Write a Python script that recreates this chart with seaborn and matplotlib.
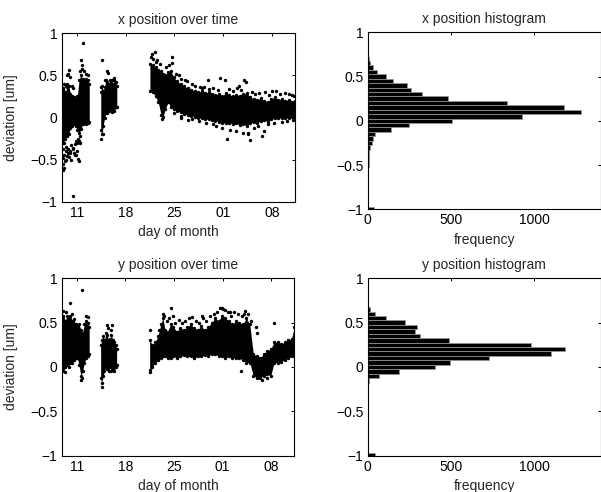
import numpy as np
import pandas as pd
import matplotlib
matplotlib.use('Agg')
import matplotlib.pyplot as plt
import seaborn as sns

# time axis: day number counted from the 1st of the first month (32 = 01 of next month)
day_ticks = [11, 18, 25, 32, 39]
day_tick_labels = ['11', '18', '25', '01', '08']
dev_ticks = [-1, -0.5, 0, 0.5, 1]
dev_tick_labels = ['\u22121', '\u22120.5', '0', '0.5', '1']
freq_ticks = [0, 500, 1000]

# ---- x position: dense band of the cloud (time, lower edge, upper edge) per run
x_run1_t = [8.85, 9.1, 9.35, 9.6, 9.85, 10.1, 10.35, 10.6, 10.85, 11.1, 11.35, 11.6, 11.85, 12.1, 12.35, 12.6, 12.8]
x_run1_lo = [-0.28, -0.30, -0.25, -0.22, -0.20, -0.12, -0.10, -0.08, -0.10, -0.15, -0.18, -0.14, -0.08, -0.07, -0.08, -0.06, -0.05]
x_run1_hi = [0.30, 0.34, 0.30, 0.36, 0.38, 0.28, 0.26, 0.24, 0.22, 0.26, 0.45, 0.50, 0.46, 0.44, 0.46, 0.44, 0.40]

x_run2_t = [14.45, 14.6, 14.8, 15.0, 15.2, 15.4, 15.6, 15.8, 16.0, 16.2, 16.4, 16.6, 16.75]
x_run2_lo = [-0.15, -0.20, -0.10, 0.00, 0.05, 0.05, 0.08, 0.10, 0.07, 0.10, 0.08, 0.12, 0.12]
x_run2_hi = [0.30, 0.38, 0.32, 0.36, 0.45, 0.42, 0.40, 0.44, 0.45, 0.40, 0.44, 0.42, 0.38]

x_run3_t = [21.5, 21.9, 22.3, 22.7, 23.1, 23.4, 23.7, 24.1, 24.5, 24.9, 25.4, 25.9, 26.4, 26.9, 27.4,
            27.9, 28.4, 28.9, 29.4, 29.9, 30.4, 30.9, 31.4, 31.9, 32.4, 32.9, 33.4, 33.9, 34.4, 34.9,
            35.4, 35.9, 36.4, 36.9, 37.4, 37.9, 38.4, 38.9, 39.4, 39.9, 40.4, 40.9, 41.4, 41.9, 42.3]
x_run3_lo = [0.32, 0.30, 0.25, 0.18, 0.03, 0.01, 0.10, 0.18, 0.12, 0.10, 0.08, 0.06, 0.04, 0.03, 0.02,
             0.01, 0.00, -0.01, -0.02, -0.02, -0.03, -0.04, -0.05, -0.06, -0.07, -0.06, -0.08, -0.07, -0.09, -0.08,
             -0.10, -0.07, -0.05, -0.06, -0.04, -0.03, -0.05, -0.02, -0.01, -0.01, 0.00, 0.00, -0.01, 0.01, 0.01]
x_run3_hi = [0.64, 0.62, 0.60, 0.56, 0.55, 0.52, 0.50, 0.54, 0.55, 0.48, 0.43, 0.40, 0.37, 0.35, 0.33,
             0.32, 0.30, 0.31, 0.29, 0.30, 0.28, 0.27, 0.28, 0.26, 0.29, 0.27, 0.25, 0.27, 0.26, 0.28,
             0.29, 0.24, 0.22, 0.21, 0.23, 0.20, 0.19, 0.22, 0.24, 0.21, 0.22, 0.20, 0.21, 0.19, 0.20]

# x position: loose points outside the dense band
x_out_t = [8.9, 9.0, 9.05, 9.2, 9.3, 9.5, 9.7, 9.9, 10.1, 10.2, 10.4, 10.45, 10.6, 10.9, 11.0, 11.2, 11.3,
           11.45, 9.8, 9.9, 10.0, 11.6, 11.9, 11.7, 12.0, 9.6, 10.3,
           8.9, 9.0, 9.1, 9.15, 9.25, 9.4, 9.45, 9.55, 9.75, 10.0, 10.25, 10.5, 10.7, 10.75, 10.95, 11.05,
           11.15, 11.4, 11.5, 9.05, 9.2, 9.4, 9.65, 10.5, 11.5, 11.8, 12.3, 12.6,
           14.6, 14.55, 15.3, 15.5, 14.7, 14.5, 15.1, 16.3,
           21.6, 21.8, 22.2, 22.5, 24.6, 24.7, 23.2, 25.9, 27.0, 29.8, 30.5, 32.2, 32.5, 34.3, 35.3,
           35.8, 35.5, 37.6, 38.0, 39.6, 41.5, 29.0, 26.5,
           22.0, 22.4, 23.0, 23.8, 24.2, 25.2, 25.6, 26.0, 26.8, 27.5, 28.0, 28.7, 29.3, 30.0, 30.6,
           31.2, 31.6, 32.8, 33.4, 34.0, 34.6, 35.0, 36.2, 36.6, 37.2, 38.6, 39.0, 40.2, 40.8, 41.8, 42.1,
           25.0, 26.0, 27.6, 28.6, 29.6, 31.0, 31.8, 33.0, 33.8, 34.8, 35.6, 36.4, 37.0, 37.8, 38.5,
           39.3, 40.5, 41.2, 42.0]
x_out_v = [-0.55, -0.62, -0.48, -0.45, -0.52, -0.40, -0.42, -0.47, -0.40, -0.50, -0.38, -0.93, -0.42, -0.28, -0.40, -0.49, -0.52,
           -0.30, 0.52, 0.57, 0.48, 0.68, 0.88, 0.58, 0.55, 0.40, 0.38,
           -0.45, -0.38, -0.55, -0.30, -0.60, -0.50, -0.35, -0.46, -0.37, -0.42, -0.33, -0.36, -0.45, -0.32, -0.45, -0.30,
           -0.25, -0.28, -0.22, 0.35, 0.40, 0.38, 0.50, 0.35, 0.55, 0.62, 0.52, 0.50,
           0.68, -0.25, 0.55, 0.53, -0.20, 0.36, 0.45, 0.47,
           0.72, 0.75, 0.78, 0.68, 0.72, 0.65, -0.02, 0.00, -0.03, 0.45, -0.08, 0.45, -0.25, 0.38, 0.42,
           -0.27, -0.18, -0.22, 0.30, 0.32, 0.28, 0.35, 0.45,
           0.70, 0.66, 0.64, 0.60, 0.62, 0.52, 0.50, 0.46, 0.43, 0.40, 0.38, 0.36, 0.36, 0.34, 0.35,
           0.33, 0.47, 0.34, 0.32, 0.35, 0.33, 0.45, 0.30, 0.28, 0.29, 0.27, 0.31, 0.28, 0.29, 0.27, 0.26,
           0.05, 0.02, -0.02, -0.04, -0.06, -0.10, -0.13, -0.15, -0.16, -0.19, -0.20, -0.12, -0.10, -0.16, -0.08,
           -0.06, -0.05, -0.04, -0.03]

# ---- y position
y_run1_t = x_run1_t
y_run1_lo = [0.00, -0.05, 0.00, 0.02, 0.00, 0.05, 0.05, 0.08, 0.10, 0.10, 0.02, -0.10, -0.05, 0.05, 0.10, 0.12, 0.15]
y_run1_hi = [0.55, 0.58, 0.52, 0.57, 0.55, 0.58, 0.52, 0.54, 0.48, 0.46, 0.48, 0.42, 0.38, 0.48, 0.52, 0.50, 0.45]

y_run2_t = x_run2_t
y_run2_lo = [-0.12, -0.18, -0.10, -0.05, 0.00, -0.02, -0.05, 0.00, -0.05, -0.02, -0.05, 0.00, 0.02]
y_run2_hi = [0.25, 0.30, 0.35, 0.30, 0.38, 0.36, 0.30, 0.32, 0.36, 0.30, 0.28, 0.25, 0.20]

y_run3_t = x_run3_t
y_run3_lo = [-0.03, 0.00, 0.05, 0.08, 0.10, 0.12, 0.12, 0.10, 0.10, 0.12, 0.10, 0.12, 0.13, 0.12, 0.12,
             0.10, 0.12, 0.12, 0.13, 0.12, 0.15, 0.15, 0.12, 0.12, 0.10, 0.12, 0.10, 0.10, 0.10, 0.08,
             0.05, 0.05, -0.10, -0.12, -0.12, -0.10, -0.08, -0.10, 0.05, 0.05, 0.06, 0.08, 0.10, 0.12, 0.15]
y_run3_hi = [0.30, 0.25, 0.28, 0.35, 0.48, 0.55, 0.42, 0.40, 0.48, 0.45, 0.40, 0.44, 0.42, 0.45, 0.48,
             0.44, 0.42, 0.46, 0.42, 0.45, 0.50, 0.55, 0.52, 0.58, 0.55, 0.52, 0.48, 0.52, 0.50, 0.48,
             0.55, 0.48, 0.15, 0.12, 0.10, 0.15, 0.18, 0.20, 0.28, 0.28, 0.26, 0.28, 0.30, 0.32, 0.45]

y_out_t = [9.0, 10.1, 11.7, 11.65, 12.4, 9.3, 11.8, 9.5, 10.4, 12.7,
           14.65, 15.3, 16.1, 15.9, 15.5,
           21.5, 21.55, 23.4, 24.6, 31.9, 32.4, 33.0, 35.0, 36.8, 37.0, 37.6, 38.4, 39.4, 34.6, 29.0,
           22.9, 23.5, 24.0, 24.3, 24.8, 25.2, 25.7, 26.2, 26.6, 27.1, 27.6, 28.1, 28.6, 29.1, 29.6,
           30.2, 30.7, 31.2, 31.6, 32.1, 32.7, 33.2, 33.7, 34.2, 34.8, 35.2, 35.7, 36.1]
y_out_v = [0.63, 0.72, 0.87, -0.15, 0.58, -0.06, -0.12, 0.62, 0.60, 0.56,
           -0.22, 0.47, 0.47, 0.42, 0.44,
           0.42, -0.06, 0.60, 0.67, 0.66, 0.64, 0.62, 0.60, 0.45, 0.38, -0.15, -0.12, 0.50, -0.05, 0.58,
           0.42, 0.58, 0.52, 0.55, 0.57, 0.50, 0.53, 0.50, 0.52, 0.55, 0.56, 0.52, 0.50, 0.55, 0.52,
           0.57, 0.60, 0.62, 0.66, 0.65, 0.62, 0.58, 0.62, 0.60, 0.58, 0.63, 0.60, 0.52]

# ---- histograms: bin centres -1 .. 1 in steps of 0.05, counts per bin
bin_centers = np.round(np.linspace(-1, 1, 41), 2)
x_hist_counts = [40, 0, 1, 0, 0, 0, 0, 1, 2, 3, 5, 6, 8, 10, 16, 25, 34, 45, 138, 250, 508,
                 926, 1280, 1180, 840, 482, 329, 258, 239, 155, 108, 57, 30, 14, 8, 3, 0, 1, 0, 0, 0]
y_hist_counts = [44, 0, 0, 0, 0, 0, 0, 0, 0, 0, 0, 0, 0, 0, 0, 0, 2, 8, 67, 186, 403,
                 496, 732, 1101, 1184, 982, 488, 316, 286, 296, 222, 113, 44, 14, 4, 0, 0, 1, 0, 0, 0]

sns.set_style('white')
plt.rcParams['font.family'] = ['Liberation Sans', 'DejaVu Sans']
plt.rcParams['font.size'] = 10
plt.rcParams['axes.linewidth'] = 0.8

W, H = 601, 492
fig = plt.figure(figsize=(W / 100, H / 100), dpi=100)


def px_axes(x0, y0, x1, y1):
    # axes from pixel box (top-left origin)
    return fig.add_axes([x0 / W, 1 - y1 / H, (x1 - x0) / W, (y1 - y0) / H])


def style_axes(ax):
    for s in ax.spines.values():
        s.set_visible(True)
        s.set_color('black')
        s.set_linewidth(0.8)
    ax.tick_params(direction='in', length=2.5, width=0.7, top=True, right=True,
                   labelsize=10, pad=3, colors='black')
    ax.set_ylim(-1, 1)
    ax.set_yticks(dev_ticks)
    ax.set_yticklabels(dev_tick_labels)


def draw_cloud(ax, runs, out_t, out_v, title):
    for t, lo, hi in runs:
        ax.fill_between(t, lo, hi, color='black', linewidth=0)
        edge = pd.DataFrame({'t': list(t) + list(t), 'v': list(lo) + list(hi)})
        sns.scatterplot(data=edge, x='t', y='v', ax=ax, color='black', s=6, linewidth=0)
    pts = pd.DataFrame({'t': out_t, 'v': out_v})
    sns.scatterplot(data=pts, x='t', y='v', ax=ax, color='black', s=6, linewidth=0)
    style_axes(ax)
    ax.set_xlim(8.85, 42.3)
    ax.set_xticks(day_ticks)
    ax.set_xticklabels(day_tick_labels)
    ax.set_xlabel('day of month', labelpad=4)
    ax.set_ylabel('deviation [um]', labelpad=9)
    ax.set_title(title, fontsize=10, pad=7)


def draw_hist(ax, counts, title):
    edges = [float(c) - 0.025 for c in bin_centers] + [float(bin_centers[-1]) + 0.025]
    hist_df = pd.DataFrame({'dev': bin_centers, 'count': counts})
    sns.histplot(data=hist_df, y='dev', weights='count', bins=edges, ax=ax, color='black',
                 edgecolor='0.6', linewidth=0.5, alpha=1)
    style_axes(ax)
    ax.set_xlim(0, 1400)
    ax.set_xticks(freq_ticks)
    ax.set_xticklabels([str(v) for v in freq_ticks])
    ax.set_xlabel('frequency', labelpad=4)
    ax.set_ylabel('')
    ax.set_title(title, fontsize=10, pad=7)


ax1 = px_axes(61.7, 33.3, 295, 201.7)
draw_cloud(ax1, [(x_run1_t, x_run1_lo, x_run1_hi), (x_run2_t, x_run2_lo, x_run2_hi),
                 (x_run3_t, x_run3_lo, x_run3_hi)], x_out_t, x_out_v, 'x position over time')

ax2 = px_axes(367.7, 32.3, 600.5, 209.3)
draw_hist(ax2, x_hist_counts, 'x position histogram')

ax3 = px_axes(61.7, 278.3, 294.3, 455.7)
draw_cloud(ax3, [(y_run1_t, y_run1_lo, y_run1_hi), (y_run2_t, y_run2_lo, y_run2_hi),
                 (y_run3_t, y_run3_lo, y_run3_hi)], y_out_t, y_out_v, 'y position over time')

ax4 = px_axes(367.7, 278.3, 600.5, 455.7)
draw_hist(ax4, y_hist_counts, 'y position histogram')

fig.savefig('out.png', dpi=100)
